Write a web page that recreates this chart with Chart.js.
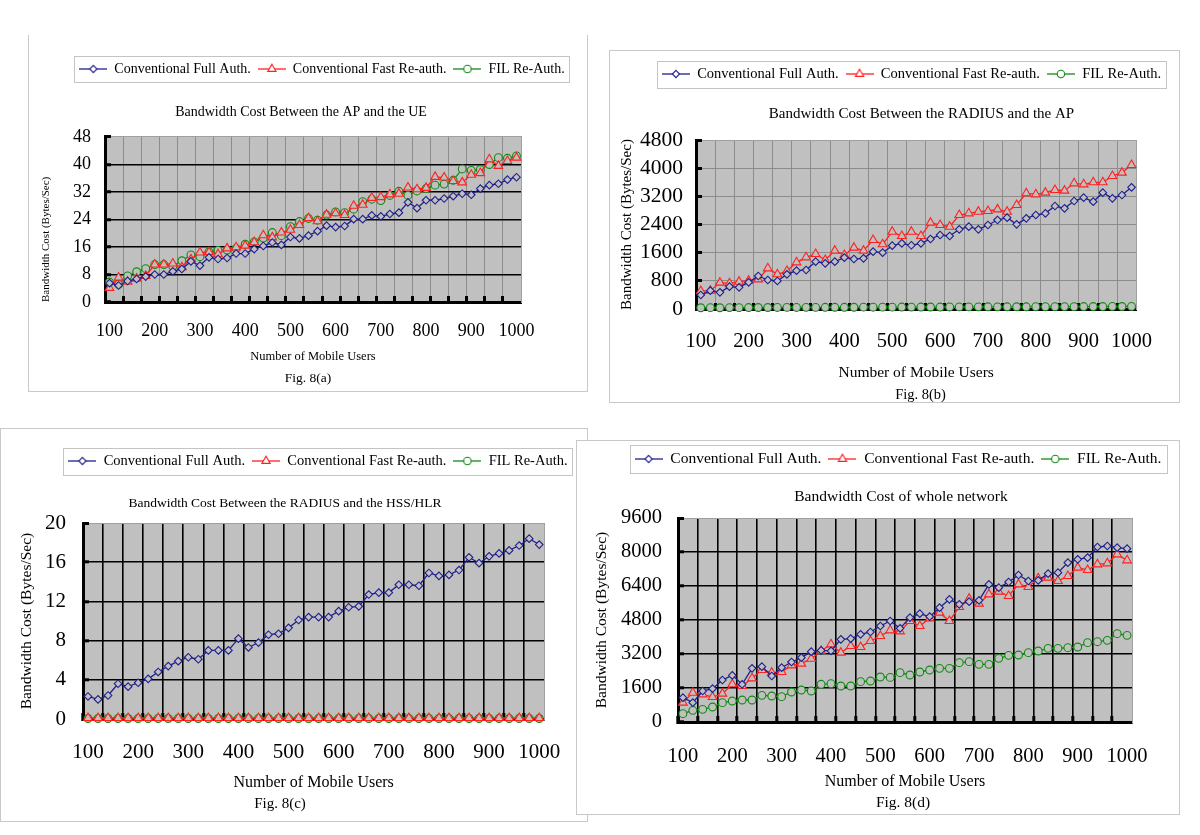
<!DOCTYPE html>
<html>
<head>
<meta charset="utf-8">
<title>Fig. 8 Bandwidth Cost</title>
<script src="https://cdn.jsdelivr.net/npm/chart.js@4.4.1/dist/chart.umd.min.js"></script>
<style>
  html, body { margin: 0; padding: 0; background: #fff; }
  body { position: relative; width: 1200px; height: 835px; overflow: hidden; }
  .frame { position: absolute; border: 1px solid #c8c8c8; background: #fff; box-sizing: border-box; }
  canvas { position: absolute; }
</style>
</head>
<body>
<div class="frame" style="left:28px;top:35px;width:560px;height:357px;border-top:none"></div>
<canvas id="figA" style="left:29px;top:35px"></canvas>
<div class="frame" style="left:609px;top:50px;width:571px;height:353px"></div>
<canvas id="figB" style="left:610px;top:51px"></canvas>
<div class="frame" style="left:0;top:428px;width:588px;height:394px"></div>
<canvas id="figC" style="left:1px;top:429px"></canvas>
<div class="frame" style="left:576px;top:440px;width:604px;height:375px"></div>
<canvas id="figD" style="left:577px;top:441px"></canvas>

<script>
// number of mobile users (x categories)
const users = [100, 120, 140, 160, 180, 200, 220, 240, 260, 280,
  300, 320, 340, 360, 380, 400, 420, 440, 460, 480,
  500, 520, 540, 560, 580, 600, 620, 640, 660, 680,
  700, 720, 740, 760, 780, 800, 820, 840, 860, 880,
  900, 920, 940, 960, 980, 1000];

const seriesNames = ['Conventional Full Auth.', 'Conventional Fast Re-auth.', 'FIL Re-Auth.'];

// Fig. 8(a) AP <-> UE
const apFull = [5.5, 4.8, 6.1, 6.7, 7.4, 8.0, 8.0, 8.9, 9.6, 11.8,
  10.6, 13.0, 12.5, 12.8, 14.1, 14.1, 15.4, 16.3, 17.3, 16.6,
  18.9, 18.5, 19.3, 20.6, 22.2, 21.8, 22.1, 24.1, 24.1, 25.2,
  24.9, 25.6, 26.0, 29.0, 27.3, 29.6, 29.6, 30.1, 30.8, 31.5,
  31.2, 33.0, 34.0, 34.4, 35.6, 36.3];
const apFast = [4.1, 7.1, 5.9, 6.8, 7.6, 10.9, 10.9, 11.2, 10.1, 12.4,
  14.4, 14.5, 13.9, 15.6, 15.9, 16.4, 17.4, 19.4, 18.8, 20.2,
  21.0, 22.4, 24.4, 23.5, 25.4, 25.8, 25.3, 28.0, 28.3, 30.3,
  30.5, 31.3, 31.5, 33.3, 32.8, 33.2, 36.4, 36.2, 35.2, 34.8,
  37.0, 37.5, 41.5, 39.6, 41.0, 42.0];
const apFil = [5.8, 5.1, 7.6, 8.8, 9.7, 10.9, 10.9, 10.4, 12.0, 13.7,
  13.2, 14.6, 15.0, 15.1, 15.6, 16.8, 17.5, 18.6, 20.2, 19.3,
  21.9, 23.4, 24.3, 23.8, 25.3, 26.2, 26.0, 27.0, 29.2, 29.9,
  29.5, 31.0, 32.2, 31.0, 32.3, 33.0, 34.0, 34.3, 35.4, 38.7,
  38.3, 38.5, 40.0, 42.0, 41.8, 42.5];

// Fig. 8(b) RADIUS <-> AP
const raFull = [398, 520, 473, 634, 615, 757, 937, 824, 795, 985,
  1089, 1108, 1344, 1297, 1344, 1458, 1420, 1439, 1628, 1600,
  1798, 1865, 1810, 1866, 1988, 2102, 2073, 2263, 2338, 2263,
  2386, 2528, 2594, 2404, 2575, 2670, 2717, 2925, 2859, 3067,
  3162, 3048, 3304, 3143, 3237, 3455];
const raFast = [511, 520, 748, 729, 776, 805, 842, 1155, 985, 1079,
  1325, 1467, 1562, 1392, 1657, 1533, 1742, 1657, 1960, 1837,
  2196, 2073, 2196, 2073, 2452, 2386, 2338, 2670, 2717, 2764,
  2783, 2830, 2764, 2954, 3285, 3257, 3304, 3380, 3361, 3569,
  3541, 3598, 3598, 3778, 3872, 4090];
const raFil = [35, 38, 36, 40, 39, 41, 43, 42, 44, 45,
  44, 47, 46, 48, 49, 48, 50, 52, 51, 53,
  52, 55, 54, 56, 57, 56, 58, 60, 59, 61,
  62, 61, 63, 64, 63, 66, 65, 67, 68, 67,
  69, 70, 69, 72, 71, 73];

// Fig. 8(c) RADIUS <-> HSS/HLR
const hssFull = [2.3, 2.0, 2.4, 3.6, 3.3, 3.7, 4.1, 4.8, 5.4, 5.9,
  6.3, 6.1, 7.0, 7.0, 7.0, 8.2, 7.3, 7.8, 8.6, 8.7,
  9.3, 10.1, 10.4, 10.4, 10.4, 11.0, 11.4, 11.5, 12.7, 12.9,
  12.9, 13.7, 13.7, 13.6, 14.9, 14.6, 14.7, 15.2, 16.5, 15.9,
  16.6, 16.9, 17.2, 17.7, 18.4, 17.8];
const hssFast = [0.1, 0.1, 0.1, 0.1, 0.1, 0.1, 0.1, 0.1, 0.1, 0.1,
  0.1, 0.1, 0.1, 0.1, 0.1, 0.1, 0.1, 0.1, 0.1, 0.1,
  0.1, 0.1, 0.1, 0.1, 0.1, 0.1, 0.1, 0.1, 0.1, 0.1,
  0.1, 0.1, 0.1, 0.1, 0.1, 0.1, 0.1, 0.1, 0.1, 0.1,
  0.1, 0.1, 0.1, 0.1, 0.1, 0.1];
const hssFil = [0.05, 0.05, 0.05, 0.05, 0.05, 0.05, 0.05, 0.05, 0.05, 0.05,
  0.05, 0.05, 0.05, 0.05, 0.05, 0.05, 0.05, 0.05, 0.05, 0.05,
  0.05, 0.05, 0.05, 0.05, 0.05, 0.05, 0.05, 0.05, 0.05, 0.05,
  0.05, 0.05, 0.05, 0.05, 0.05, 0.05, 0.05, 0.05, 0.05, 0.05,
  0.05, 0.05, 0.05, 0.05, 0.05, 0.05];

// Fig. 8(d) whole network
const netFull = [1145, 910, 1459, 1569, 1976, 2196, 1773, 2525, 2604, 2165,
  2557, 2824, 3028, 3310, 3373, 3350, 3890, 3922, 4125, 4235,
  4518, 4753, 4408, 4910, 5098, 4957, 5381, 5773, 5538, 5663,
  5725, 6478, 6322, 6588, 6918, 6635, 6667, 6980, 7027, 7498,
  7655, 7733, 8235, 8282, 8204, 8157];
const netFast = [910, 1380, 1302, 1176, 1333, 1773, 1694, 2055, 2447, 2322,
  2353, 2667, 2745, 2980, 3341, 3655, 3263, 3577, 3530, 3812,
  4047, 4314, 4266, 4753, 4518, 4878, 5145, 4753, 5412, 5804,
  5569, 6008, 6133, 5929, 6478, 6353, 6761, 6792, 6635, 6871,
  7263, 7153, 7420, 7467, 7890, 7608];
const netFil = [392, 549, 596, 706, 910, 988, 1035, 1035, 1255, 1224,
  1192, 1412, 1506, 1459, 1773, 1804, 1694, 1694, 1898, 1929,
  2118, 2100, 2322, 2212, 2353, 2447, 2525, 2525, 2792, 2839,
  2714, 2714, 2996, 3137, 3153, 3263, 3341, 3467, 3467, 3498,
  3529, 3733, 3780, 3843, 4157, 4078];

const BLUE = '#20208c';
const RED = '#ff2020';
const GREEN = '#138a13';
const PLOT_BG = '#c0c0c0';

Chart.defaults.font.family = "'Liberation Serif', 'Times New Roman', serif";
Chart.defaults.color = '#000';

// legend symbol: short line with the marker in the middle
function legendIcon(color, shape, r) {
  const c = document.createElement('canvas');
  c.width = 28; c.height = 14;
  const g = c.getContext('2d');
  const m = 14;
  g.strokeStyle = color;
  g.lineWidth = 1.3;
  g.beginPath(); g.moveTo(0, 7); g.lineTo(28, 7); g.stroke();
  g.beginPath();
  if (shape === 'rectRot') {
    g.moveTo(m, 7 - r); g.lineTo(m + r, 7); g.lineTo(m, 7 + r); g.lineTo(m - r, 7); g.closePath();
  } else if (shape === 'triangle') {
    g.moveTo(m, 7 - r); g.lineTo(m + r * 0.866, 7 + r * 0.5); g.lineTo(m - r * 0.866, 7 + r * 0.5); g.closePath();
  } else {
    g.arc(m, 7, r, 0, Math.PI * 2);
  }
  g.fillStyle = '#fff'; g.fill();
  g.lineWidth = 1.1; g.stroke();
  return c;
}

const icons = [legendIcon(BLUE, 'rectRot', 3.6), legendIcon(RED, 'triangle', 4.8), legendIcon(GREEN, 'circle', 3.7)];

function series(label, data, color, shape, r) {
  return {
    label: label, data: data,
    borderColor: color, backgroundColor: color, borderWidth: 1.3,
    pointStyle: shape, pointRadius: r, pointBorderColor: color,
    pointBackgroundColor: PLOT_BG, pointBorderWidth: 1.1, clip: false
  };
}

const plotBg = {
  id: 'plotBg',
  beforeDraw(chart) {
    const a = chart.chartArea, ctx = chart.ctx;
    ctx.save();
    ctx.fillStyle = PLOT_BG;
    ctx.fillRect(a.left, a.top, a.right - a.left, a.bottom - a.top);
    ctx.restore();
  }
};

// nudge legend / title / caption sideways after layout
const boxShift = {
  id: 'boxShift',
  afterLayout(chart, args, opts) {
    chart.boxes.forEach(b => {
      let dx = 0;
      if (b === chart.legend) dx = opts.legend || 0;
      else if (b === chart.titleBlock) dx = opts.title || 0;
      else if (b.position === 'bottom' && !b.axis) dx = opts.caption || 0;
      if (dx) { b.left += dx; b.right += dx; }
    });
  }
};

const legendFrame = {
  id: 'legendFrame',
  afterDraw(chart) {
    const hb = chart.legend && chart.legend.legendHitBoxes;
    if (!hb || !hb.length) return;
    const x1 = Math.min(...hb.map(b => b.left)) - 5;
    const x2 = Math.max(...hb.map(b => b.left + b.width)) + 5;
    const y1 = hb[0].top - 6, y2 = hb[0].top + hb[0].height + 6;
    const ctx = chart.ctx;
    ctx.save();
    ctx.strokeStyle = '#c4c4c4';
    ctx.lineWidth = 1;
    ctx.strokeRect(Math.round(x1) + 0.5, Math.round(y1) + 0.5, Math.round(x2 - x1), Math.round(y2 - y1));
    ctx.restore();
  }
};

function buildPanel(id, p, full, fast, fil) {
  const cv = document.getElementById(id);
  const fx = p.box[0], fy = p.box[1], W = p.box[2], H = p.box[3];
  cv.width = W; cv.height = H;
  const L = p.plot[0] - fx, R = p.plot[1] - fx, T = p.plot[2] - fy, B = p.plot[3] - fy;

  const legPad = 7;
  const padTop = p.legY - fy - legPad - p.fLeg / 2;
  const legH = p.fLeg + legPad + 10;
  const tLh = p.fTitle * 1.2;
  const titleTop = padTop + legH;
  const tPadTop = p.titleY - fy - tLh / 2 - titleTop;
  const tPadBot = T - (p.titleY - fy + tLh / 2);

  const fLh = p.fFig * 1.2;
  const figTop = p.figY - fy - fLh / 2 - 2;
  const figPadBot = H - (p.figY - fy + fLh / 2);
  const xH = figTop - B;
  const xTickPad = p.tickY - fy - B + 6 - p.fTick * 0.6;
  const xtPadBot = figTop - (p.xtY - fy) - p.fXT * 0.6;
  const ytPadTop = p.ytX - fx - p.fYT * 0.6;
  const yTickPad = L + 6 - (p.yLabR - fx);
  const yW = L, y2W = W - R;

  new Chart(cv, {
    type: 'line',
    data: {
      labels: users,
      datasets: [
        series(seriesNames[0], full, BLUE, 'rectRot', 3.8),
        series(seriesNames[1], fast, RED, 'triangle', 5),
        series(seriesNames[2], fil, GREEN, 'circle', 3.9)
      ]
    },
    options: {
      responsive: false,
      animation: false,
      events: [],
      layout: { padding: { left: 0, right: 0, top: padTop, bottom: 0 }, autoPadding: false },
      plugins: {
        boxShift: p.shift,
        legend: {
          position: 'top', weight: 3000, fullSize: true, align: 'center',
          labels: {
            usePointStyle: true, pointStyleWidth: 28, padding: legPad,
            font: { size: p.fLeg }, color: '#000',
            generateLabels(chart) {
              const items = Chart.defaults.plugins.legend.labels.generateLabels(chart);
              items.forEach((it, i) => { it.pointStyle = icons[i]; });
              return items;
            }
          }
        },
        title: {
          display: true, text: p.title, color: '#000',
          font: { size: p.fTitle, weight: 'normal' },
          padding: { top: tPadTop, bottom: tPadBot }
        },
        subtitle: {
          display: true, position: 'bottom', text: p.fig, color: '#000',
          font: { size: p.fFig, weight: 'normal' },
          padding: { top: 2, bottom: figPadBot }
        },
        tooltip: { enabled: false }
      },
      scales: {
        x: {
          type: 'category', offset: true,
          grid: {
            offset: true, drawTicks: true, tickLength: -6, tickWidth: 3,
            lineWidth: p.vLw,
            color: c => c.index % 2 === 0 ? p.vCol : 'rgba(0,0,0,0)',
            tickColor: c => c.index % 2 === 0 ? '#000' : 'rgba(0,0,0,0)'
          },
          border: { color: '#000', width: 3 },
          ticks: {
            autoSkip: false, maxRotation: 0, minRotation: 0,
            padding: xTickPad, font: { size: p.fTick }, color: '#000',
            callback(v) {
              const u = this.getLabelForValue(v);
              return u % 100 === 0 ? String(u) : '';
            }
          },
          title: {
            display: true, text: 'Number of Mobile Users', color: '#000',
            font: { size: p.fXT }, padding: { top: 0, bottom: xtPadBot }
          },
          afterFit(s) { s.height = xH; }
        },
        y: {
          min: 0, max: p.yMax,
          ticks: {
            stepSize: p.yStep, autoSkip: false, padding: yTickPad,
            font: { size: p.fYTick || p.fTick }, color: '#000',
            callback: v => String(v)
          },
          grid: {
            drawTicks: true, tickLength: -6, tickWidth: 3, tickColor: '#000',
            color: c => (c.tick && c.tick.value === p.yMax) ? '#a0a0a0' : p.hCol,
            lineWidth: c => (c.tick && c.tick.value === p.yMax) ? 1 : p.hLw
          },
          border: { color: '#000', width: 3 },
          title: {
            display: true, text: 'Bandwidth Cost (Bytes/Sec)', color: '#000', align: p.ytAlign,
            font: { size: p.fYT }, padding: { top: ytPadTop, bottom: 0 }
          },
          afterFit(s) { s.width = yW; }
        },
        y2: {
          type: 'linear', position: 'right', min: 0, max: 1,
          grid: { display: false },
          ticks: { display: false },
          border: { display: true, color: '#a0a0a0', width: 1 },
          afterFit(s) { s.width = y2W; }
        }
      }
    },
    plugins: [plotBg, boxShift, legendFrame]
  });
}

buildPanel('figA', {
  box: [29, 35, 558, 356], plot: [105, 521, 137, 302],
  title: 'Bandwidth Cost Between the AP and the UE', fig: 'Fig. 8(a)',
  legY: 69, titleY: 112, tickY: 331, xtY: 357, figY: 378, yLabR: 91, ytX: 46,
  fLeg: 14, fTitle: 14, fTick: 18, fYT: 11, fXT: 12.5, fFig: 13.5,
  yMax: 48, yStep: 8, hCol: '#000', hLw: 1.5, vCol: '#8c8c8c', vLw: 1, ytAlign: 'start',
  shift: { legend: 14, title: -7, caption: 0 }
}, apFull, apFast, apFil);

buildPanel('figB', {
  box: [610, 51, 569, 351], plot: [696, 1154, 140, 309],
  title: 'Bandwidth Cost Between the RADIUS and the AP', fig: 'Fig. 8(b)',
  legY: 74, titleY: 114, tickY: 342, xtY: 373, figY: 395, yLabR: 683, ytX: 627,
  fLeg: 14.5, fTitle: 15, fTick: 20.5, fYTick: 21.5, fYT: 15, fXT: 15.5, fFig: 14.5,
  yMax: 4800, yStep: 800, hCol: '#8c8c8c', hLw: 1, vCol: '#8c8c8c', vLw: 1, ytAlign: 'center',
  shift: { legend: 17, title: 27, caption: 26 }
}, raFull, raFast, raFil);

buildPanel('figC', {
  box: [1, 429, 586, 392], plot: [83, 552, 523, 719],
  title: 'Bandwidth Cost Between the RADIUS and the HSS/HLR', fig: 'Fig. 8(c)',
  legY: 461, titleY: 503, tickY: 752, xtY: 783, figY: 804, yLabR: 66, ytX: 27,
  fLeg: 14.5, fTitle: 13.5, fTick: 21, fYT: 15.5, fXT: 16, fFig: 15,
  yMax: 20, yStep: 4, hCol: '#000', hLw: 1.6, vCol: '#000', vLw: 1.6, ytAlign: 'center',
  shift: { legend: 24, title: -9, caption: -14 }
}, hssFull, hssFast, hssFil);

buildPanel('figD', {
  box: [577, 441, 602, 373], plot: [678, 1132, 518, 722],
  title: 'Bandwidth Cost of whole network', fig: 'Fig. 8(d)',
  legY: 459, titleY: 497, tickY: 757, xtY: 782, figY: 803, yLabR: 662, ytX: 602,
  fLeg: 15.5, fTitle: 15.5, fTick: 20.5, fYT: 15.5, fXT: 16, fFig: 15.5,
  yMax: 9600, yStep: 1600, hCol: '#000', hLw: 1.6, vCol: '#000', vLw: 1.6, ytAlign: 'center',
  shift: { legend: 20, title: 23, caption: 25 }
}, netFull, netFast, netFil);
</script>
</body>
</html>
